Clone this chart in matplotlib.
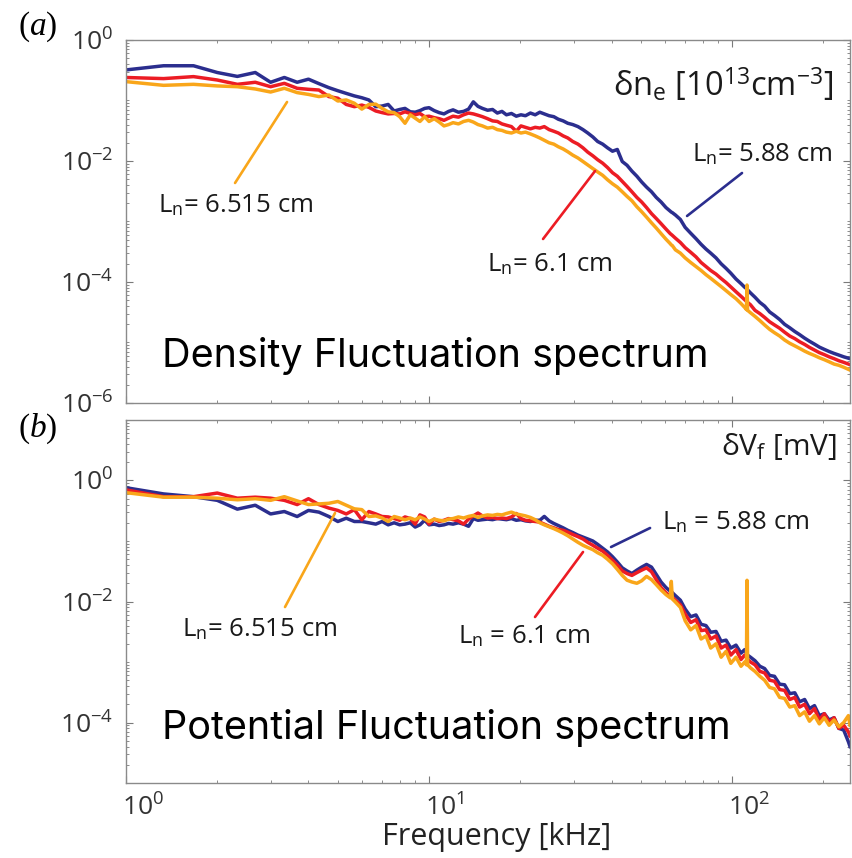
import numpy as np
import matplotlib
matplotlib.use("Agg")
import matplotlib.pyplot as plt
from matplotlib.ticker import LogLocator, NullFormatter
from matplotlib.transforms import ScaledTranslation

# ---------------------------------------------------------------- data
# frequency grid [kHz] shared by all spectra
freq_khz = [
    1.00, 1.33, 1.67, 2.00, 2.33, 2.67, 3.00, 3.33, 3.67, 4.00,
    4.33, 4.67, 5.00, 5.33, 5.67, 6.00, 6.33, 6.67, 7.00, 7.33,
    7.67, 8.00, 8.33, 8.67, 9.00, 9.33, 9.67, 10.0, 10.4, 10.8,
    11.2, 11.6, 12.0, 12.5, 13.0, 13.5, 14.0, 14.5, 15.0, 15.6,
    16.2, 16.8, 17.4, 18.0, 18.7, 19.4, 20.1, 20.8, 21.6, 22.4,
    23.2, 24.0, 24.9, 25.8, 26.7, 27.7, 28.7, 29.8, 31.0, 32.2,
    33.4, 34.7, 36.0, 37.4, 38.8, 40.3, 41.8, 43.4, 45.0, 46.7,
    48.5, 50.3, 52.2, 54.2, 56.2, 58.3, 60.5, 62.5, 63.0, 63.5,
    65.0, 67.5, 70.0, 73.0, 76.0, 79.0, 82.0, 85.0, 88.5, 92.0,
    95.5, 99.0, 103., 107., 110., 111.5, 112., 112.5, 115., 119.,
    123.5, 128., 133., 138., 143.5, 149., 155., 161., 167., 173.5,
    180., 187., 194., 201.5, 209., 217., 225., 233.5, 242., 245.,
]

# (a) density fluctuation spectra, delta n_e [1e13 cm^-3]
dne_ln588 = [
    0.32, 0.375, 0.375, 0.29, 0.25, 0.29, 0.20, 0.24, 0.20, 0.225,
    0.19, 0.163, 0.145, 0.131, 0.119, 0.111, 0.102, 0.079, 0.081, 0.086,
    0.067, 0.071, 0.074, 0.065, 0.064, 0.068, 0.074, 0.076, 0.068, 0.063,
    0.060, 0.066, 0.070, 0.064, 0.066, 0.072, 0.095, 0.080, 0.074, 0.069,
    0.071, 0.062, 0.066, 0.058, 0.061, 0.055, 0.058, 0.056, 0.062, 0.058,
    0.064, 0.060, 0.056, 0.054, 0.049, 0.046, 0.042, 0.040, 0.037, 0.033,
    0.029, 0.025, 0.021, 0.019, 0.0165, 0.0145, 0.0155, 0.0098, 0.0085, 0.0068,
    0.0056, 0.0045, 0.0037, 0.0031, 0.0025, 0.0021, 0.0017, 0.00148, 0.00143, 0.00140,
    1.28e-3, 1.08e-3, 8.0e-4, 6.4e-4, 5.2e-4, 4.2e-4, 3.5e-4, 3.0e-4, 2.5e-4, 2.0e-4,
    1.68e-4, 1.40e-4, 1.12e-4, 9.4e-5, 8.2e-5, 7.8e-5, 7.6e-5, 7.4e-5, 6.6e-5, 5.6e-5,
    4.6e-5, 4.0e-5, 3.2e-5, 2.8e-5, 2.4e-5, 2.0e-5, 1.75e-5, 1.52e-5, 1.35e-5, 1.18e-5,
    1.05e-5, 9.4e-6, 8.4e-6, 7.7e-6, 7.1e-6, 6.6e-6, 6.2e-6, 5.8e-6, 5.5e-6, 5.4e-6,
]
dne_ln61 = [
    0.24, 0.23, 0.248, 0.218, 0.185, 0.20, 0.169, 0.192, 0.159, 0.153,
    0.149, 0.116, 0.109, 0.086, 0.079, 0.084, 0.077, 0.067, 0.063, 0.060,
    0.061, 0.060, 0.065, 0.061, 0.058, 0.061, 0.054, 0.055, 0.052, 0.050,
    0.047, 0.051, 0.055, 0.053, 0.058, 0.062, 0.060, 0.057, 0.054, 0.050,
    0.046, 0.045, 0.041, 0.039, 0.037, 0.031, 0.038, 0.036, 0.034, 0.036,
    0.035, 0.037, 0.033, 0.031, 0.029, 0.026, 0.024, 0.021, 0.019, 0.0165,
    0.014, 0.0122, 0.0105, 0.0092, 0.0078, 0.0064, 0.0056, 0.0046, 0.0038, 0.0031,
    0.0025, 0.0021, 0.0017, 0.00135, 0.00112, 0.00092, 0.00075, 0.00063, 0.00061, 0.00059,
    5.3e-4, 4.5e-4, 3.7e-4, 3.1e-4, 2.6e-4, 2.1e-4, 1.8e-4, 1.55e-4, 1.35e-4, 1.14e-4,
    9.8e-5, 8.3e-5, 6.9e-5, 5.8e-5, 5.1e-5, 4.8e-5, 4.7e-5, 4.6e-5, 4.2e-5, 3.4e-5,
    3.0e-5, 2.6e-5, 2.2e-5, 1.95e-5, 1.72e-5, 1.48e-5, 1.28e-5, 1.16e-5, 1.03e-5, 9.3e-6,
    8.3e-6, 7.5e-6, 6.8e-6, 6.3e-6, 5.8e-6, 5.4e-6, 5.0e-6, 4.7e-6, 4.4e-6, 4.3e-6,
]
dne_ln6515 = [
    0.205, 0.178, 0.185, 0.174, 0.169, 0.155, 0.138, 0.159, 0.135, 0.126,
    0.116, 0.123, 0.098, 0.102, 0.090, 0.072, 0.086, 0.087, 0.074, 0.065,
    0.063, 0.054, 0.042, 0.058, 0.051, 0.045, 0.054, 0.045, 0.050, 0.044,
    0.038, 0.040, 0.043, 0.041, 0.045, 0.047, 0.044, 0.040, 0.038, 0.035,
    0.036, 0.033, 0.032, 0.030, 0.029, 0.031, 0.029, 0.030, 0.028, 0.026,
    0.024, 0.022, 0.020, 0.019, 0.0172, 0.0158, 0.0142, 0.0125, 0.0112, 0.0098,
    0.0086, 0.0075, 0.0066, 0.0058, 0.0049, 0.0042, 0.0037, 0.0031, 0.0026, 0.0022,
    0.00175, 0.00145, 0.00118, 0.00095, 0.00078, 0.00063, 0.00051, 0.00043, 0.00041, 0.00040,
    3.4e-4, 3.0e-4, 2.5e-4, 2.1e-4, 1.8e-4, 1.55e-4, 1.32e-4, 1.15e-4, 9.8e-5, 8.4e-5,
    7.2e-5, 6.2e-5, 5.3e-5, 4.4e-5, 3.8e-5, 3.5e-5, 8.9e-5, 3.4e-5, 3.1e-5, 2.7e-5,
    2.3e-5, 1.95e-5, 1.65e-5, 1.45e-5, 1.28e-5, 1.10e-5, 9.7e-6, 8.8e-6, 8.0e-6, 7.2e-6,
    6.6e-6, 6.1e-6, 5.6e-6, 5.2e-6, 4.8e-6, 4.4e-6, 4.2e-6, 3.9e-6, 3.6e-6, 3.5e-6,
]

# (b) floating potential fluctuation spectra, delta V_f [mV]
dvf_ln588 = [
    0.76, 0.60, 0.54, 0.47, 0.336, 0.39, 0.28, 0.307, 0.254, 0.32,
    0.30, 0.254, 0.21, 0.238, 0.21, 0.21, 0.20, 0.19, 0.21, 0.185,
    0.20, 0.185, 0.19, 0.20, 0.17, 0.185, 0.22, 0.185, 0.19, 0.18,
    0.185, 0.195, 0.19, 0.20, 0.19, 0.175, 0.235, 0.22, 0.225, 0.23,
    0.225, 0.235, 0.23, 0.225, 0.235, 0.22, 0.225, 0.215, 0.21, 0.22,
    0.22, 0.255, 0.215, 0.195, 0.18, 0.165, 0.150, 0.138, 0.125, 0.116,
    0.108, 0.100, 0.088, 0.076, 0.066, 0.055, 0.045, 0.036, 0.032, 0.029,
    0.033, 0.037, 0.041, 0.037, 0.028, 0.021, 0.017, 0.0148, 0.0145, 0.0140,
    0.0125, 0.0105, 0.0075, 0.0056, 0.0060, 0.0042, 0.0040, 0.0031, 0.0032, 0.0022,
    0.0023, 0.0017, 0.0019, 0.0014, 0.0016, 0.0014, 0.0013, 0.0013, 0.0012, 0.00105,
    8.5e-4, 7.8e-4, 6.0e-4, 5.8e-4, 4.3e-4, 4.2e-4, 3.0e-4, 3.1e-4, 2.2e-4, 2.4e-4,
    1.7e-4, 1.9e-4, 1.3e-4, 1.4e-4, 1.1e-4, 1.2e-4, 8.0e-5, 7.5e-5, 4.8e-5, 4.0e-5,
]
dvf_ln61 = [
    0.70, 0.54, 0.54, 0.62, 0.51, 0.53, 0.51, 0.47, 0.40, 0.50,
    0.40, 0.35, 0.32, 0.28, 0.33, 0.224, 0.307, 0.28, 0.254, 0.25,
    0.235, 0.22, 0.25, 0.235, 0.19, 0.27, 0.25, 0.19, 0.23, 0.21,
    0.22, 0.235, 0.225, 0.215, 0.19, 0.23, 0.26, 0.29, 0.26, 0.24,
    0.245, 0.235, 0.24, 0.235, 0.25, 0.285, 0.235, 0.22, 0.215, 0.21,
    0.205, 0.19, 0.175, 0.165, 0.155, 0.15, 0.14, 0.128, 0.118, 0.108,
    0.095, 0.085, 0.076, 0.068, 0.058, 0.048, 0.040, 0.032, 0.029, 0.027,
    0.030, 0.033, 0.036, 0.031, 0.023, 0.017, 0.014, 0.0122, 0.0120, 0.0117,
    0.0105, 0.0088, 0.0062, 0.0045, 0.0050, 0.0033, 0.0034, 0.0024, 0.0027, 0.0017,
    0.0019, 0.0013, 0.0016, 0.0011, 0.0013, 0.0012, 0.00115, 0.0011, 0.0010, 0.0009,
    7.0e-4, 6.6e-4, 5.0e-4, 4.8e-4, 3.5e-4, 3.4e-4, 2.4e-4, 2.6e-4, 1.8e-4, 2.0e-4,
    1.4e-4, 1.7e-4, 1.1e-4, 1.4e-4, 1.0e-4, 1.2e-4, 8.0e-5, 9.0e-5, 7.0e-5, 6.0e-5,
]
dvf_ln6515 = [
    0.63, 0.53, 0.53, 0.51, 0.48, 0.50, 0.47, 0.54, 0.46, 0.40,
    0.41, 0.42, 0.45, 0.39, 0.34, 0.33, 0.254, 0.26, 0.24, 0.21,
    0.254, 0.24, 0.224, 0.24, 0.224, 0.25, 0.23, 0.21, 0.23, 0.22,
    0.215, 0.23, 0.235, 0.25, 0.24, 0.255, 0.265, 0.245, 0.26, 0.27,
    0.265, 0.275, 0.27, 0.285, 0.30, 0.28, 0.27, 0.26, 0.245, 0.225,
    0.20, 0.185, 0.172, 0.16, 0.148, 0.135, 0.122, 0.108, 0.095, 0.085,
    0.078, 0.072, 0.064, 0.058, 0.050, 0.042, 0.034, 0.027, 0.0225, 0.021,
    0.020, 0.022, 0.026, 0.023, 0.019, 0.0155, 0.013, 0.0115, 0.0215, 0.011,
    0.0098, 0.0080, 0.0048, 0.0034, 0.0040, 0.0024, 0.0027, 0.0017, 0.0020, 0.0012,
    0.0015, 0.00095, 0.0012, 0.00085, 0.0010, 0.0009, 0.0224, 0.0009, 0.00080, 0.00070,
    5.8e-4, 5.0e-4, 3.8e-4, 3.6e-4, 2.6e-4, 2.5e-4, 1.8e-4, 1.9e-4, 1.3e-4, 1.5e-4,
    1.05e-4, 1.3e-4, 9.5e-5, 1.2e-4, 9.0e-5, 1.1e-4, 8.5e-5, 1.0e-4, 1.3e-4, 9.0e-5,
]

series_labels = ["5.88", "6.1", "6.515"]
colors = ["#2B2E8E", "#EC1C24", "#F9A61A"]

# ---------------------------------------------------------------- style
plt.rcParams["font.family"] = ["Open Sans", "DejaVu Sans"]
plt.rcParams["mathtext.fontset"] = "custom"
plt.rcParams["mathtext.rm"] = "Open Sans"
plt.rcParams["mathtext.it"] = "Liberation Serif:italic"
plt.rcParams["mathtext.bf"] = "Open Sans:bold"

fig = plt.figure(figsize=(8.52, 8.58), dpi=100)
ax_a = fig.add_axes([0.1479, 0.5303, 0.8498, 0.4231])
ax_b = fig.add_axes([0.1479, 0.0874, 0.8498, 0.4231])


def style_axes(ax, ylim, yticks, ylabels):
    ax.set_xscale("log")
    ax.set_yscale("log")
    ax.set_xlim(1, 245)
    ax.set_ylim(*ylim)
    for sp in ax.spines.values():
        sp.set_color("#8a8a8a")
        sp.set_linewidth(1.0)
    ax.tick_params(which="both", direction="in", top=True, right=True,
                   color="#7a7a7a", labelcolor="#333333")
    ax.tick_params(which="major", length=5, width=0.8, labelsize=19, pad=9)
    ax.tick_params(which="minor", length=2.5, width=0.6)
    ax.set_yticks(yticks, labels=ylabels)
    ax.yaxis.set_minor_locator(LogLocator(base=10, subs=np.arange(1, 10), numticks=100))
    ax.yaxis.set_minor_formatter(NullFormatter())
    ax.xaxis.set_minor_locator(LogLocator(base=10, subs=np.arange(2, 10), numticks=100))
    ax.xaxis.set_minor_formatter(NullFormatter())


style_axes(ax_a, (1e-6, 1.0), [1e-6, 1e-4, 1e-2, 1.0],
           [r"$\mathregular{10^{-6}}$", r"$\mathregular{10^{-4}}$",
            r"$\mathregular{10^{-2}}$", r"$\mathregular{10^{0}}$"])
style_axes(ax_b, (1e-5, 10.0), [1e-4, 1e-2, 1.0],
           [r"$\mathregular{10^{-4}}$", r"$\mathregular{10^{-2}}$",
            r"$\mathregular{10^{0}}$"])

ax_a.set_xticks([1, 10, 100], labels=["", "", ""])
ax_b.set_xticks([1, 10, 100], labels=[r"$\mathregular{10^{0}}$",
                                      r"$\mathregular{10^{1}}$",
                                      r"$\mathregular{10^{2}}$"])
ax_b.tick_params(axis="x", which="major", pad=8)
shift = ScaledTranslation(-4 / 100, 0, fig.dpi_scale_trans)
for lbl in ax_b.get_xticklabels():
    lbl.set_horizontalalignment("left")
    lbl.set_transform(lbl.get_transform() + shift)

# ---------------------------------------------------------------- curves
for vals, c in zip([dne_ln588, dne_ln61, dne_ln6515], colors):
    ax_a.plot(freq_khz, vals, color=c, lw=2.5, solid_joinstyle="round")
for vals, c in zip([dvf_ln588, dvf_ln61, dvf_ln6515], colors):
    ax_b.plot(freq_khz, vals, color=c, lw=2.5, solid_joinstyle="round")


def leader(ax, p0, p1, color):
    ax.annotate("", xy=p1, xytext=p0, xycoords="axes fraction",
                textcoords="axes fraction",
                arrowprops=dict(arrowstyle="-", color=color, lw=1.9,
                                shrinkA=0, shrinkB=0))


lab_kw = dict(ha="left", va="center", fontsize=18.5, color="#1a1a1a")

# panel (a) annotations
ax_a.text(0.782, 0.683, r"L$_\mathregular{n}$= " + series_labels[0] + " cm",
          transform=ax_a.transAxes, **lab_kw)
ax_a.text(0.4986, 0.380, r"L$_\mathregular{n}$= " + series_labels[1] + " cm",
          transform=ax_a.transAxes, **lab_kw)
ax_a.text(0.0442, 0.545, r"L$_\mathregular{n}$= " + series_labels[2] + " cm",
          transform=ax_a.transAxes, **lab_kw)
leader(ax_a, (0.7749, 0.5152), (0.8508, 0.6336), colors[0])
leader(ax_a, (0.5760, 0.4518), (0.6478, 0.6391), colors[1])
leader(ax_a, (0.1506, 0.6061), (0.2224, 0.8292), colors[2])
ax_a.text(0.9765, 0.876,
          r"δn$_\mathregular{e}$ [10$^\mathregular{13}$cm$^\mathregular{-3}$]",
          transform=ax_a.transAxes, ha="right", va="center", fontsize=23.5,
          color="#1a1a1a")
ax_a.text(0.0497, 0.099, "Density Fluctuation spectrum", transform=ax_a.transAxes,
          ha="left", va="baseline", fontsize=28.5, family="Inter", color="black")

# panel (b) annotations
ax_b.text(0.7403, 0.7163, r"L$_\mathregular{n}$ = " + series_labels[0] + " cm",
          transform=ax_b.transAxes, **lab_kw)
ax_b.text(0.4586, 0.4022, r"L$_\mathregular{n}$ = " + series_labels[1] + " cm",
          transform=ax_b.transAxes, **lab_kw)
ax_b.text(0.0773, 0.4215, r"L$_\mathregular{n}$= " + series_labels[2] + " cm",
          transform=ax_b.transAxes, **lab_kw)
leader(ax_b, (0.6699, 0.6501), (0.7238, 0.7025), colors[0])
leader(ax_b, (0.5649, 0.4573), (0.6312, 0.6364), colors[1])
leader(ax_b, (0.2196, 0.4848), (0.2887, 0.7438), colors[2])
ax_b.text(0.982, 0.9256, r"δV$_\mathregular{f}$ [mV]", transform=ax_b.transAxes,
          ha="right", va="center", fontsize=21.5, color="#1a1a1a")
ax_b.text(0.0497, 0.12, "Potential Fluctuation spectrum", transform=ax_b.transAxes,
          ha="left", va="baseline", fontsize=28.5, family="Inter", color="black")

ax_b.set_xlabel("Frequency [kHz]", fontsize=22, color="#222222")
ax_b.xaxis.set_label_coords(0.512, -0.108)

# panel tags
fig.text(18 / 852, 1 - 35 / 858, r"($\mathit{a}$)", family="Liberation Serif",
         fontsize=24, ha="left", va="baseline")
fig.text(18 / 852, 1 - 437 / 858, r"($\mathit{b}$)", family="Liberation Serif",
         fontsize=24, ha="left", va="baseline")

fig.savefig("out.png", dpi=100)
